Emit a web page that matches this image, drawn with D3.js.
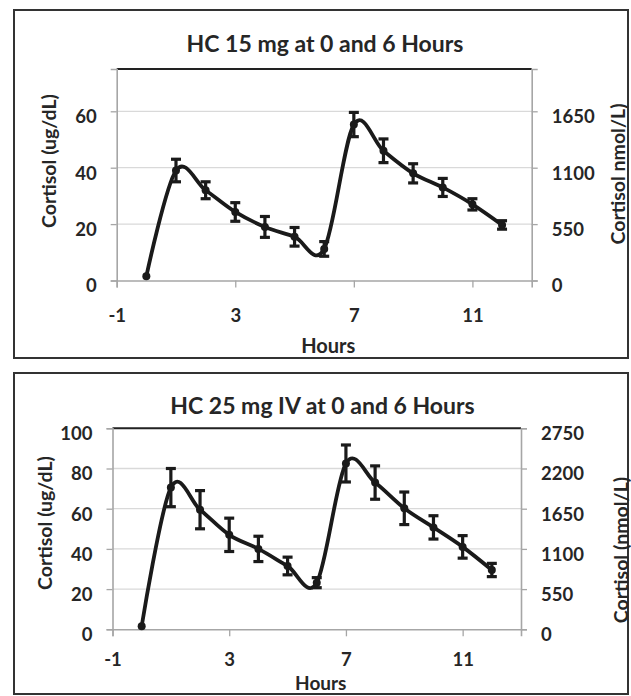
<!DOCTYPE html>
<html>
<head>
<meta charset="utf-8">
<script src="https://cdn.jsdelivr.net/npm/d3@7"></script>
<style>
  html, body { margin: 0; padding: 0; background: #fff; }
  svg text { font-family: Lato, "Open Sans", sans-serif; font-weight: bold; fill: #262626; }
</style>
</head>
<body>
<svg id="chart" width="631" height="696"></svg>
<script>
// ---------------- DATA ----------------
const hours = [0, 1, 2, 3, 4, 5, 6, 7, 8, 9, 10, 11, 12];
const hc15Mean = [1.5, 39, 32, 24.3, 19, 15.5, 11.2, 55.3, 46, 38, 33, 27, 19.7];
const hc15Err  = [0.5, 4, 3, 3.3, 3.7, 3.3, 2.6, 4.3, 4.2, 3.4, 3.2, 2, 1.5];
const hc25Mean = [1.5, 70.5, 59.5, 47, 40, 31.5, 23.2, 82.5, 73, 60.2, 50.7, 41, 29.5];
const hc25Err  = [0.5, 9.5, 9.5, 8.3, 6.3, 4.4, 2.5, 9.2, 8.3, 8.1, 5.8, 5.6, 3.3];
const xTicks = [-1, 3, 7, 11];
const hc15LeftTicks = [0, 20, 40, 60];
const hc15RightTicks = [0, 550, 1100, 1650];
const hc25LeftTicks = [0, 20, 40, 60, 80, 100];
const hc25RightTicks = [0, 550, 1100, 1650, 2200, 2750];
const titles = ["HC 15 mg at 0 and 6 Hours", "HC 25 mg IV at 0 and 6 Hours"];
const leftTitles = ["Cortisol (ug/dL)", "Cortisol (ug/dL)"];
const rightTitles = ["Cortisol nmol/L)", "Cortisol (nmol/L)"];
const xTitle = "Hours";
const nmolPerUgdl = 27.5;

// ---------------- LAYOUT ----------------
const panels = [
  { box: {x: 14, y: 10, w: 614, h: 348},
    plot: {l: 116.7, r: 531.7, t: 69, b: 280.5}, yMax: 75,
    mean: hc15Mean, err: hc15Err, lt: hc15LeftTicks, rt: hc15RightTicks,
    title: titles[0], titleX: 325, titleY: 43,
    ltitle: leftTitles[0], ltX: 48, ltY: 161,
    rtitle: rightTitles[0], rtX: 617, rtY: 174,
    xLabY: 315, hoursY: 345, hoursSize: 20 },
  { box: {x: 14, y: 373, w: 614, h: 321},
    plot: {l: 112.5, r: 521, t: 428.3, b: 629.3}, yMax: 100,
    mean: hc25Mean, err: hc25Err, lt: hc25LeftTicks, rt: hc25RightTicks,
    title: titles[1], titleX: 322.5, titleY: 405,
    ltitle: leftTitles[1], ltX: 44, ltY: 523,
    rtitle: rightTitles[1], rtX: 620, rtY: 550,
    xLabY: 659, hoursY: 682, hoursSize: 19 }
];

const svg = d3.select("#chart");
const axisGray = "#a6a6a6";
const gridGray = "#d9d9d9";
const ink = "#1a1a1a";
const fmt = d => String(d);   // plain hyphen for negatives

panels.forEach(p => {
  const g = svg.append("g");
  g.append("rect").attr("x", p.box.x).attr("y", p.box.y)
    .attr("width", p.box.w).attr("height", p.box.h)
    .attr("fill", "#fff").attr("stroke", "#333").attr("stroke-width", 2);

  const x = d3.scaleLinear().domain([-1, 13]).range([p.plot.l, p.plot.r]);
  const y = d3.scaleLinear().domain([0, p.yMax]).range([p.plot.b, p.plot.t]);
  const y2 = d3.scaleLinear().domain([0, p.yMax * nmolPerUgdl]).range([p.plot.b, p.plot.t]);

  g.append("g").selectAll("line").data(p.lt.filter(d => d > 0)).join("line")
    .attr("x1", p.plot.l).attr("x2", p.plot.r)
    .attr("y1", d => y(d)).attr("y2", d => y(d))
    .attr("stroke", gridGray).attr("stroke-width", 1.3);

  g.append("line").attr("x1", p.plot.l).attr("x2", p.plot.r)
    .attr("y1", p.plot.t).attr("y2", p.plot.t)
    .attr("stroke", "#222").attr("stroke-width", 2);

  const la = g.append("g").attr("transform", `translate(${p.plot.l},0)`)
    .call(d3.axisLeft(y).tickValues(p.lt).tickSize(6).tickPadding(14).tickFormat(fmt));
  const ra = g.append("g").attr("transform", `translate(${p.plot.r},0)`)
    .call(d3.axisRight(y2).tickValues(p.rt).tickSize(6).tickPadding(14).tickFormat(fmt));
  const ba = g.append("g").attr("transform", `translate(0,${p.plot.b})`)
    .call(d3.axisBottom(x).tickValues(xTicks).tickSize(7).tickFormat(fmt));

  [la, ra, ba].forEach(a => {
    a.attr("font-family", null).attr("font-size", null);
    a.select(".domain").attr("stroke", axisGray).attr("stroke-width", 1.6);
    a.selectAll(".tick line").attr("stroke", axisGray).attr("stroke-width", 1.3);
    a.selectAll(".tick text").attr("font-size", 18.5).style("fill", "#262626");
  });
  la.selectAll(".tick text").attr("dy", "0.62em");
  ra.selectAll(".tick text").attr("dy", "0.62em");
  ba.selectAll(".tick text").attr("y", 0).attr("dy", 0)
    .attr("transform", `translate(0,${p.xLabY - p.plot.b})`)
    .attr("dominant-baseline", "central");

  g.append("text").attr("x", p.titleX).attr("y", p.titleY)
    .attr("text-anchor", "middle").attr("dominant-baseline", "central")
    .attr("font-size", 23).text(p.title);
  g.append("text").attr("transform", `translate(${p.ltX},${p.ltY}) rotate(-90)`)
    .attr("text-anchor", "middle").attr("dominant-baseline", "central")
    .attr("font-size", 19.5).text(p.ltitle);
  g.append("text").attr("transform", `translate(${p.rtX},${p.rtY}) rotate(-90)`)
    .attr("text-anchor", "middle").attr("dominant-baseline", "central")
    .attr("font-size", 19.5).text(p.rtitle);
  g.append("text").attr("x", (p.plot.l + p.plot.r) / 2 + 4).attr("y", p.hoursY)
    .attr("text-anchor", "middle").attr("dominant-baseline", "central")
    .attr("font-size", p.hoursSize).text(xTitle);

  const pts = hours.map((h, i) => ({h, v: p.mean[i], e: p.err[i]}));

  const line = d3.line().x(d => x(d.h)).y(d => y(d.v)).curve(d3.curveCardinal.tension(0));
  g.append("path").datum(pts).attr("d", line)
    .attr("fill", "none").attr("stroke", ink).attr("stroke-width", 3.8)
    .attr("stroke-linejoin", "round");

  const withErr = pts.filter(d => d.e > 0.6);
  const eb = g.append("g").attr("stroke", ink).attr("stroke-width", 3.2);
  eb.selectAll("line.v").data(withErr).join("line").attr("class", "v")
    .attr("x1", d => x(d.h)).attr("x2", d => x(d.h))
    .attr("y1", d => y(d.v - d.e)).attr("y2", d => y(d.v + d.e));
  eb.selectAll("line.ct").data(withErr).join("line").attr("class", "ct")
    .attr("x1", d => x(d.h) - 5).attr("x2", d => x(d.h) + 5)
    .attr("y1", d => y(d.v + d.e)).attr("y2", d => y(d.v + d.e));
  eb.selectAll("line.cb").data(withErr).join("line").attr("class", "cb")
    .attr("x1", d => x(d.h) - 5).attr("x2", d => x(d.h) + 5)
    .attr("y1", d => y(d.v - d.e)).attr("y2", d => y(d.v - d.e));

  g.append("g").selectAll("circle").data(pts).join("circle")
    .attr("cx", d => x(d.h)).attr("cy", d => y(d.v)).attr("r", 4)
    .attr("fill", ink);
});
</script>
</body>
</html>
